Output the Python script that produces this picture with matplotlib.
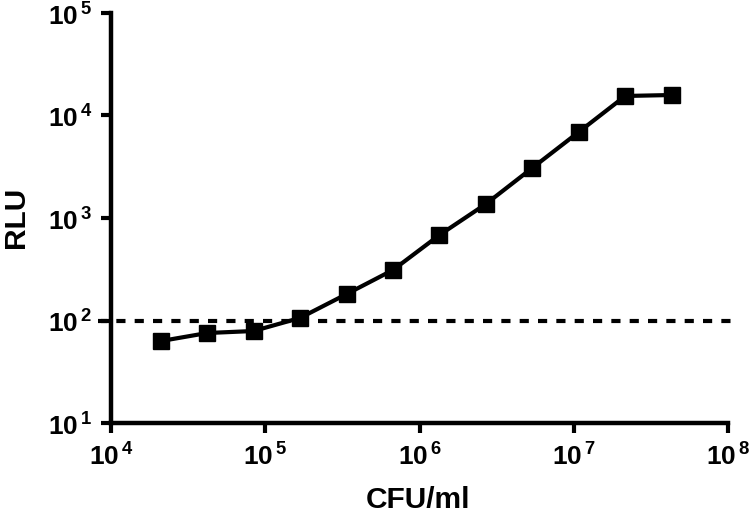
import matplotlib
matplotlib.use("Agg")
import matplotlib.pyplot as plt
from matplotlib.ticker import FixedLocator, NullLocator, FixedFormatter

plt.rcParams['font.family'] = ['Liberation Sans', 'DejaVu Sans']
plt.rcParams['mathtext.fontset'] = 'custom'
plt.rcParams['mathtext.rm'] = 'Liberation Sans:bold'
plt.rcParams['mathtext.bf'] = 'Liberation Sans:bold'

cfu = [21000, 42000, 84000, 168000, 336000, 672000, 1344000, 2688000,
       5376000, 10752000, 21504000, 43008000]
rlu = [63, 75.5, 79, 106, 181, 311, 682, 1370, 3080, 6900, 15500, 15840]
threshold = 100

x_ticks = [1e4, 1e5, 1e6, 1e7, 1e8]
x_labels = ['4', '5', '6', '7', '8']
y_ticks = [1e1, 1e2, 1e3, 1e4, 1e5]
y_labels = ['1', '2', '3', '4', '5']

fig = plt.figure(figsize=(7.5, 5.13), dpi=100)
ax = fig.add_axes([0.148, 0.1754, 0.823, 0.7993])
ax.set_xscale('log')
ax.set_yscale('log')
ax.set_xlim(1e4, 1e8)
ax.set_ylim(1e1, 1e5)

ax.plot(cfu, rlu, color='black', lw=3, marker='s', ms=11.5, zorder=3,
        clip_on=False)
ax.plot([10**3.915, 10**8.02], [threshold, threshold], color='black', lw=3,
        dashes=(2.2, 2.2), clip_on=False, zorder=2)

for s in ['top', 'right']:
    ax.spines[s].set_visible(False)
for s in ['left', 'bottom']:
    ax.spines[s].set_linewidth(3.2)

ax.xaxis.set_major_locator(FixedLocator(x_ticks))
ax.yaxis.set_major_locator(FixedLocator(y_ticks))
ax.xaxis.set_minor_locator(NullLocator())
ax.yaxis.set_minor_locator(NullLocator())
ax.xaxis.set_major_formatter(FixedFormatter([r'$\mathbf{10}^{\,\mathbf{%s}}$' % l for l in x_labels]))
ax.yaxis.set_major_formatter(FixedFormatter([r'$\mathbf{10}^{\,\mathbf{%s}}$' % l for l in y_labels]))
ax.tick_params(direction='out', length=7.5, width=3, labelsize=19, pad=6)

fig.text(418 / 750, 1 - 500 / 513, 'CFU/ml', fontsize=21.5, fontweight='bold',
         ha='center', va='center')
fig.text(16 / 750, 1 - 217 / 513, 'RLU', fontsize=21.5, fontweight='bold',
         ha='center', va='center', rotation=90)

fig.savefig('out.png', dpi=100)
